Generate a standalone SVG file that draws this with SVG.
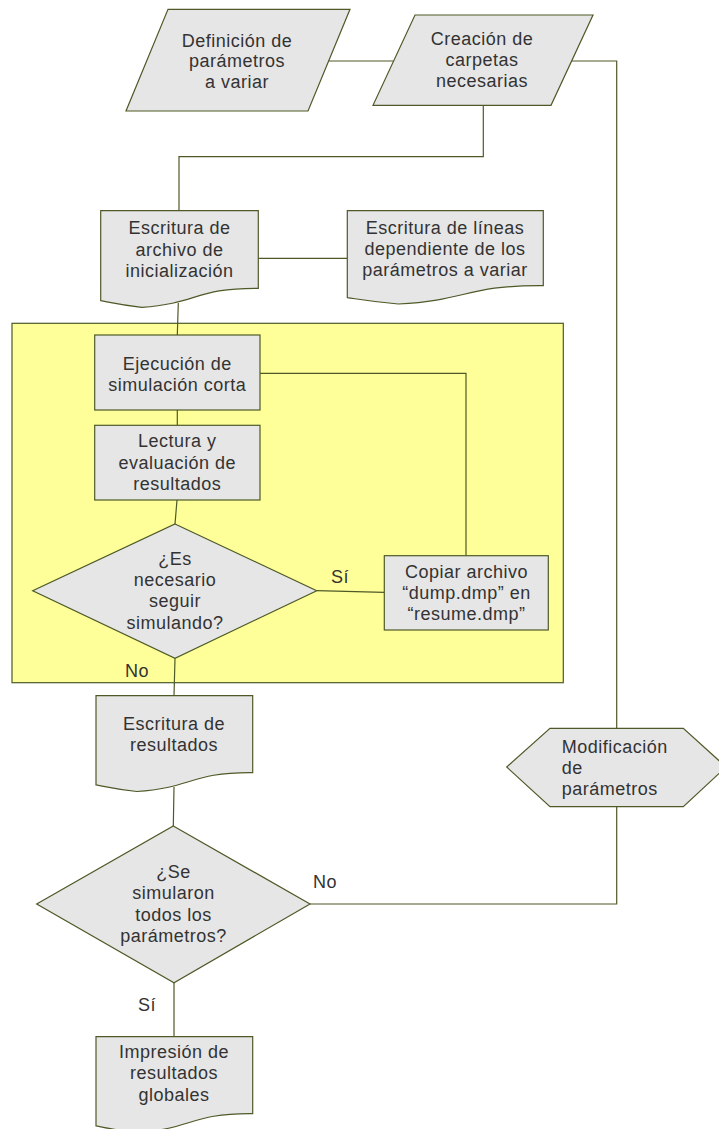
<svg xmlns="http://www.w3.org/2000/svg" width="719" height="1129" viewBox="0 0 719 1129">
<style>
.shape{fill:#e6e6e6;stroke:#4d5a27;stroke-width:1.2}
.group{fill:#ffff99;stroke:#4d5a27;stroke-width:1.2}
.conn{fill:none;stroke:#4d5a27;stroke-width:1.2}
text{font-family:"Liberation Sans",Arial,sans-serif;font-size:18px;fill:#333333;letter-spacing:0.5px}
.c{text-anchor:middle}
</style>
<rect width="719" height="1129" fill="#ffffff"/>
<g id="loop-area">
<rect class="group" x="12" y="323.3" width="551.3" height="359.4"/>
</g>
<g id="connectors">
<path class="conn" d="M328.6 61 H393.5"/>
<path class="conn" d="M571.5 61 H616.7 V728.3"/>
<path class="conn" d="M483.3 105.3 V156.7 H179 V210.7"/>
<path class="conn" d="M258.3 258.3 H347.3"/>
<path class="conn" d="M178.3 303 L177.3 335"/>
<path class="conn" d="M177.3 410 V425.3"/>
<path class="conn" d="M177 500 L175 524"/>
<path class="conn" d="M316.7 590.7 L384.3 592.3"/>
<path class="conn" d="M260 373.3 H466 V555.7"/>
<path class="conn" d="M175 658.3 L174 695.7"/>
<path class="conn" d="M174 787 L173.3 826"/>
<path class="conn" d="M310 904 H616.7 V806.7"/>
<path class="conn" d="M174 982.7 V1036.7"/>
<text x="331" y="583">Sí</text>
<text x="125" y="677">No</text>
<text x="313" y="888">No</text>
<text x="138" y="1011">Sí</text>
</g>
<g id="definicion">
<polygon class="shape" points="168,9.3 350,9.3 308,111 126,111"/>
<text class="c" x="237" y="46.7">Definición de</text>
<text class="c" x="237" y="67">parámetros</text>
<text class="c" x="237" y="87.5">a variar</text>
</g>
<g id="creacion">
<polygon class="shape" points="415,15 593,15 551,105.3 373,105.3"/>
<text class="c" x="482" y="45">Creación de</text>
<text class="c" x="482" y="66">carpetas</text>
<text class="c" x="482" y="87">necesarias</text>
</g>
<g id="escritura-archivo">
<path class="shape" d="M100.7 210.7 H258.3 V288.3 C195.9 287.7 198 303.6 141.7 307.3 C121.6 305.1 114.2 303.3 100.7 300.7 Z"/>
<text class="c" x="179.5" y="234.3">Escritura de</text>
<text class="c" x="179.5" y="255.5">archivo de</text>
<text class="c" x="179.5" y="276.7">inicialización</text>
</g>
<g id="escritura-lineas">
<path class="shape" d="M347.3 210.7 H543.3 V285.7 C465.7 285.1 468.3 300.4 398.3 304 C373.2 301.8 364.1 300.1 347.3 297.6 Z"/>
<text class="c" x="445" y="234.3">Escritura de líneas</text>
<text class="c" x="445" y="255">dependiente de los</text>
<text class="c" x="445" y="275.7">parámetros a variar</text>
</g>
<g id="ejecucion">
<rect class="shape" x="94.7" y="335" width="165.3" height="75"/>
<text class="c" x="177.3" y="370">Ejecución de</text>
<text class="c" x="177.3" y="390.5">simulación corta</text>
</g>
<g id="lectura">
<rect class="shape" x="94.7" y="425.3" width="165.3" height="74.7"/>
<text class="c" x="177.3" y="447.3">Lectura y</text>
<text class="c" x="177.3" y="468.5">evaluación de</text>
<text class="c" x="177.3" y="489.7">resultados</text>
</g>
<g id="decision-seguir">
<polygon class="shape" points="175,524 316.7,590.7 175,658.3 32.7,590.7"/>
<text class="c" x="175" y="565">¿Es</text>
<text class="c" x="175" y="586">necesario</text>
<text class="c" x="175" y="607">seguir</text>
<text class="c" x="175" y="628.5">simulando?</text>
</g>
<g id="copiar">
<rect class="shape" x="384.3" y="555.7" width="164" height="74.3"/>
<text class="c" x="466.5" y="578.3">Copiar archivo</text>
<text class="c" x="466.5" y="599.3">“dump.dmp” en</text>
<text class="c" x="466.5" y="620">“resume.dmp”</text>
</g>
<g id="escritura-resultados">
<path class="shape" d="M96 695.7 H252.7 V772.7 C190.7 772.1 192.8 787.8 136.8 791.5 C116.7 789.3 109.4 787.5 96 784.9 Z"/>
<text class="c" x="174" y="730">Escritura de</text>
<text class="c" x="174" y="750.7">resultados</text>
</g>
<g id="decision-todos">
<polygon class="shape" points="173.3,826 310,904 174,982.7 36.7,904"/>
<text class="c" x="173.5" y="878.3">¿Se</text>
<text class="c" x="173.5" y="899.3">simularon</text>
<text class="c" x="173.5" y="920.5">todos los</text>
<text class="c" x="173.5" y="941.7">parámetros?</text>
</g>
<g id="modificacion">
<polygon class="shape" points="506.7,767 550,728.3 683.3,728.3 726,767 683.3,806.7 550,806.7"/>
<text x="561.7" y="753.3">Modificación</text>
<text x="561.7" y="774">de</text>
<text x="561.7" y="795">parámetros</text>
</g>
<g id="impresion">
<path class="shape" d="M96 1036.7 H252.7 V1113.7 C190.7 1113.1 192.8 1128.8 136.8 1132.5 C116.7 1130.3 109.4 1128.5 96 1125.9 Z"/>
<text class="c" x="174" y="1058.3">Impresión de</text>
<text class="c" x="174" y="1079.3">resultados</text>
<text class="c" x="174" y="1100.5">globales</text>
</g>
</svg>
